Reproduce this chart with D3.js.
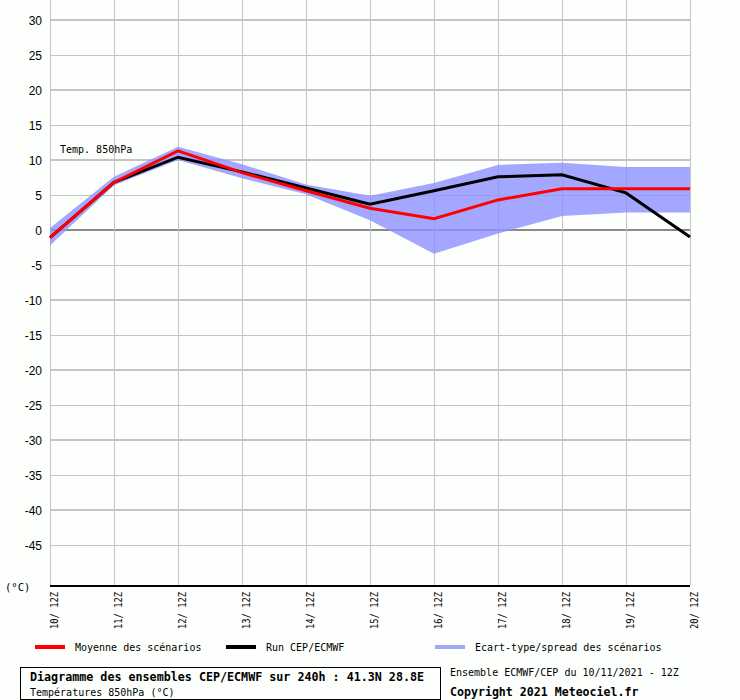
<!DOCTYPE html>
<html>
<head>
<meta charset="utf-8">
<script src="https://cdn.jsdelivr.net/npm/d3@7"></script>
<style>
  html, body { margin: 0; padding: 0; background: #fcfffc; }
  svg { display: block; }
  .mono { font-family: "DejaVu Sans Mono", "Liberation Mono", monospace; }
</style>
</head>
<body>
<div id="chart"></div>
<script>
// days on x axis
var days = ["10/ 12Z", "11/ 12Z", "12/ 12Z", "13/ 12Z", "14/ 12Z", "15/ 12Z",
            "16/ 12Z", "17/ 12Z", "18/ 12Z", "19/ 12Z", "20/ 12Z"];
// ensemble mean (red)
var meanValues = [-1.1, 6.8, 11.3, 8.2, 5.6, 3.1, 1.6, 4.3, 5.9, 5.9, 5.9];
// operational run (black)
var runValues = [-1.1, 6.8, 10.4, 8.3, 6.0, 3.7, 5.6, 7.6, 7.9, 5.3, -1.0];
// spread band
var spreadHigh = [0.3, 7.6, 11.9, 9.4, 6.5, 4.9, 6.7, 9.3, 9.6, 9.0, 9.0];
var spreadLow = [-2.2, 6.4, 10.0, 7.4, 5.1, 1.4, -3.4, -0.5, 2.0, 2.5, 2.5];
// y tick labels
var yTicks = [30, 25, 20, 15, 10, 5, 0, -5, -10, -15, -20, -25, -30, -35, -40, -45];

var width = 740, height = 700;

var svg = d3.select("#chart").append("svg")
  .attr("width", width)
  .attr("height", height);

//scales
var x = d3.scaleLinear().domain([0, days.length - 1]).range([50, 690]);
var y = d3.scaleLinear().domain([-50, 30]).range([580, 20]);
var axisY = 585;

//horizontal grid
svg.selectAll(".hgrid")
  .data(yTicks)
  .enter().append("line")
  .attr("x1", x(0))
  .attr("x2", x(days.length - 1))
  .attr("y1", function(d) { return y(d); })
  .attr("y2", function(d) { return y(d); })
  .attr("stroke", function(d) { return d === 0 ? "#8a8a8a" : "#c4c4c4"; })
  .attr("stroke-width", function(d) { return d % 10 === 0 ? 2 : 1; })
  .attr("shape-rendering", "crispEdges");

//vertical grid
svg.selectAll(".vgrid")
  .data(days)
  .enter().append("line")
  .attr("x1", function(d, i) { return x(i) + 0.5; })
  .attr("x2", function(d, i) { return x(i) + 0.5; })
  .attr("y1", 0)
  .attr("y2", axisY)
  .attr("stroke", "#c4c4c4")
  .attr("stroke-width", 1)
  .attr("shape-rendering", "crispEdges");

//spread band
var band = d3.area()
  .x(function(d, i) { return x(i); })
  .y0(function(d, i) { return y(spreadLow[i]); })
  .y1(function(d, i) { return y(spreadHigh[i]); });

svg.append("path")
  .datum(days)
  .attr("d", band)
  .attr("fill", "rgb(140,145,255)")
  .attr("fill-opacity", 0.8);

//lines
var line = function(values) {
  return d3.line()
    .x(function(d, i) { return x(i); })
    .y(function(d) { return y(d); })(values);
};

svg.append("path")
  .attr("d", line(runValues))
  .attr("fill", "none")
  .attr("stroke", "#000")
  .attr("stroke-width", 3);

svg.append("path")
  .attr("d", line(meanValues))
  .attr("fill", "none")
  .attr("stroke", "#ff0000")
  .attr("stroke-width", 3);

//x axis line
svg.append("line")
  .attr("x1", x(0))
  .attr("x2", x(days.length - 1))
  .attr("y1", axisY + 0.5)
  .attr("y2", axisY + 0.5)
  .attr("stroke", "#000")
  .attr("stroke-width", 2)
  .attr("shape-rendering", "crispEdges");

//y labels
svg.selectAll(".ylab")
  .data(yTicks)
  .enter().append("text")
  .attr("x", 42)
  .attr("y", function(d) { return y(d) + 5; })
  .attr("text-anchor", "end")
  .style("font-family", "'Liberation Sans', Arial, sans-serif")
  .style("font-size", "12px")
  .text(function(d) { return d < 0 ? "-" + Math.abs(d) : d; });

//x labels
svg.selectAll(".xlab")
  .data(days)
  .enter().append("text")
  .attr("class", "mono")
  .attr("text-anchor", "end")
  .attr("transform", function(d, i) {
    return "translate(" + (x(i) + 8) + "," + 592 + ") rotate(-90)";
  })
  .attr("textLength", 37)
  .attr("lengthAdjust", "spacingAndGlyphs")
  .style("font-size", "11px")
  .text(function(d) { return d; });

svg.append("text")
  .attr("class", "mono")
  .attr("x", 5)
  .attr("y", 591)
  .style("font-size", "10.5px")
  .text("(°C)");

svg.append("text")
  .attr("class", "mono")
  .attr("x", 60)
  .attr("y", 153)
  .style("font-size", "10px")
  .text("Temp. 850hPa");

//legend
var legend = [
  { label: "Moyenne des scénarios", color: "#ff0000", x: 35 },
  { label: "Run CEP/ECMWF", color: "#000000", x: 226 },
  { label: "Ecart-type/spread des scénarios", color: "#a0a8f8", x: 435 }
];

legend.forEach(function(l) {
  svg.append("rect")
    .attr("x", l.x)
    .attr("y", 645)
    .attr("width", 30)
    .attr("height", 4)
    .attr("fill", l.color);
  svg.append("text")
    .attr("class", "mono")
    .attr("x", l.x + 40)
    .attr("y", 651)
    .style("font-size", "10px")
    .text(l.label);
});

//footer box
svg.append("rect")
  .attr("x", 20.5)
  .attr("y", 667.5)
  .attr("width", 420)
  .attr("height", 32)
  .attr("fill", "#fcfffc")
  .attr("stroke", "#000")
  .attr("stroke-width", 1);

svg.append("text")
  .attr("class", "mono")
  .attr("x", 30)
  .attr("y", 681)
  .style("font-size", "11.7px")
  .style("font-weight", "bold")
  .text("Diagramme des ensembles CEP/ECMWF sur 240h : 41.3N 28.8E");

svg.append("text")
  .attr("class", "mono")
  .attr("x", 30)
  .attr("y", 696)
  .style("font-size", "10px")
  .text("Températures 850hPa (°C)");

svg.append("text")
  .attr("class", "mono")
  .attr("x", 450)
  .attr("y", 676)
  .style("font-size", "10px")
  .text("Ensemble ECMWF/CEP du 10/11/2021 - 12Z");

svg.append("text")
  .attr("class", "mono")
  .attr("x", 450)
  .attr("y", 696)
  .style("font-size", "11.6px")
  .style("font-weight", "bold")
  .text("Copyright 2021 Meteociel.fr");
</script>
</body>
</html>
